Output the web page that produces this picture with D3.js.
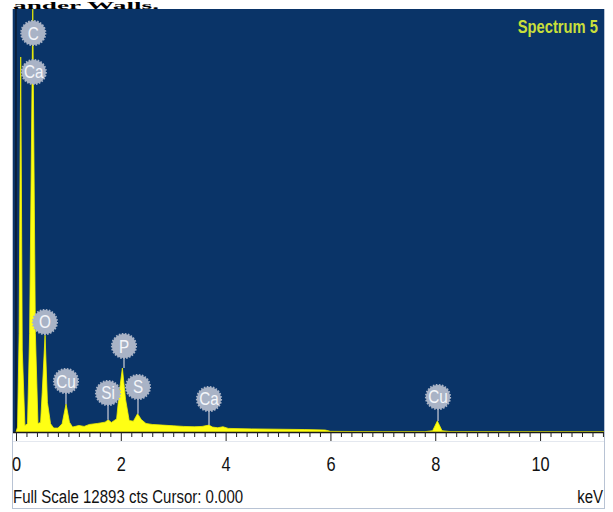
<!DOCTYPE html>
<html><head><meta charset="utf-8">
<script src="https://cdn.jsdelivr.net/npm/d3@7/dist/d3.min.js"></script>
<style>
html,body{margin:0;padding:0;background:#fff;}
svg{display:block;}
.narrow{font-family:'Liberation Sans','Arial',sans-serif;}
</style></head>
<body>
<svg id="chart" width="613" height="512"></svg>
<script>
// ---- data ----
const fullScale = 12893;
const keVMin = -0.057, keVMax = 11.22;
const energies = [0.00,0.03,0.06,0.09,0.12,0.17,0.22,0.26,0.32,0.37,0.42,0.47,0.50,0.555,0.60,0.66,0.72,0.80,0.88,0.955,1.02,1.08,1.20,1.30,1.40,1.55,1.70,1.76,1.82,1.92,1.97,2.03,2.09,2.16,2.24,2.32,2.39,2.48,2.60,2.80,3.00,3.20,3.40,3.55,3.68,3.75,3.85,3.95,4.05,4.50,5.00,5.50,5.90,6.00,6.40,7.00,7.80,7.95,8.04,8.13,8.30,11.22];
const counts   = [0,150,3000,11430,2500,200,250,3000,12893,3000,250,300,1200,2950,900,250,120,120,250,853,300,150,200,170,230,260,300,370,290,400,1200,1950,1000,350,330,560,380,260,230,210,190,170,160,170,210,150,130,160,110,95,85,75,60,20,15,10,10,40,335,40,10,5];
const peakNames  = ["C","Ca","O","Cu","Si","P","S","Ca","Cu"];
const peakKeV    = [0.33,0.34,0.553,0.954,1.756,2.061,2.328,3.683,8.053];
const labelCts   = [12161,10973,3353,1554,1189,2621,1372,1006,1067];
const stemCts    = [null,null,2950,853,370,1950,560,210,335];
const majorTicks = [0,2,4,6,8,10];
const minorStep = 0.2;
const title = "Spectrum 5";
const footer = "Full Scale 12893 cts Cursor: 0.000";
const unit = "keV";
const topText = "ander Walls.";

// ---- layout ----
const svg = d3.select("#chart");
const plot = {l:13, r:604, t:9, b:432};
const x = d3.scaleLinear().domain([keVMin, keVMax]).range([plot.l, plot.r]);
const y = d3.scaleLinear().domain([0, fullScale]).range([plot.b, plot.t]);

// top text (partly visible in reference)
svg.append("text").attr("x",13).attr("y",8.5)
  .attr("font-family","'Liberation Serif','Times New Roman',serif")
  .attr("font-weight","bold").attr("font-size",11).attr("fill","#000")
  .attr("textLength",146).attr("lengthAdjust","spacingAndGlyphs").text(topText);

// outer frame
svg.append("rect").attr("x",12.5).attr("y",9.5).attr("width",592).attr("height",499)
  .attr("fill","#fff").attr("stroke","#b8c3d4").attr("stroke-width",1);

// plot background
svg.append("rect").attr("x",plot.l).attr("y",plot.t).attr("width",plot.r-plot.l).attr("height",plot.b-plot.t)
  .attr("fill","#0a3468");

svg.append("defs").append("clipPath").attr("id","pc").append("rect")
  .attr("x",plot.l).attr("y",plot.t).attr("width",plot.r-plot.l).attr("height",plot.b-plot.t);

// y axis line at 0 keV
svg.append("line").attr("x1",x(0)).attr("x2",x(0)).attr("y1",plot.t).attr("y2",plot.b)
  .attr("stroke","#0a1a30").attr("stroke-width",1.5);

// spectrum
const pts = energies.map((e,i)=>[e,counts[i]]);
const area = d3.area().x(d=>x(d[0])).y0(y(0)).y1(d=>y(d[1]));
svg.append("path").datum(pts).attr("clip-path","url(#pc)")
  .attr("d",area).attr("fill","#ffff14").attr("stroke","#f2f200").attr("stroke-width",0.8);

// stems
peakNames.forEach((n,i)=>{
  if(stemCts[i]===null) return;
  svg.append("line").attr("x1",x(peakKeV[i])).attr("x2",x(peakKeV[i]))
    .attr("y1",y(labelCts[i])+12).attr("y2",y(stemCts[i]))
    .attr("stroke","#a7b0c2").attr("stroke-width",1.5);
});
// badges
const badge = svg.append("g");
peakNames.forEach((n,i)=>{
  const cx = x(peakKeV[i]), cy = y(labelCts[i]);
  badge.append("circle").attr("cx",cx).attr("cy",cy).attr("r",12)
    .attr("fill","#a9b3c6").attr("stroke","#a9b3c6").attr("stroke-width",2.2).attr("stroke-dasharray","1.6,1.4");
  badge.append("text").attr("class","narrow")
    .attr("transform",`translate(${cx},${cy+6.5}) scale(0.85,1)`)
    .attr("text-anchor","middle").attr("font-size",18).attr("fill","#f4f6fa").text(n);
});

// title
svg.append("text").attr("class","narrow").attr("transform","translate(598,33) scale(0.82,1)")
  .attr("text-anchor","end")
  .attr("font-size",18).attr("font-weight","bold").attr("fill","#c9df3a").text(title);

// x axis
svg.append("line").attr("x1",plot.l).attr("x2",plot.r).attr("y1",plot.b+0.5).attr("y2",plot.b+0.5)
  .attr("stroke","#1a1a1a").attr("stroke-width",1.5);
const minor = d3.range(0, keVMax+1e-9, minorStep).map(v=>+v.toFixed(1));
const axis = d3.axisBottom(x).tickValues(minor).tickSize(5).tickFormat("");
const ag = svg.append("g").attr("transform",`translate(0,${plot.b})`).call(axis);
ag.select(".domain").remove();
ag.selectAll(".tick line").attr("stroke","#222").attr("stroke-width",1)
  .attr("y2",d=> majorTicks.includes(d) ? 9 : 5);
// faint guide line
svg.append("line").attr("x1",plot.l).attr("x2",plot.r).attr("y1",plot.b+9.5).attr("y2",plot.b+9.5)
  .attr("stroke","#e4e8ef").attr("stroke-width",1);
const lg = svg.append("g").attr("transform",`translate(0,${plot.b})`)
  .call(d3.axisBottom(x).tickValues(majorTicks).tickSize(0).tickPadding(0).tickFormat(d3.format("d")));
lg.select(".domain").remove();
lg.selectAll("text").attr("class","narrow").attr("font-size",21).attr("fill","#111")
  .attr("dy",null).attr("y",null).attr("transform","translate(0,39) scale(0.78,1)");

// footer
svg.append("text").attr("class","narrow").attr("transform","translate(13,503) scale(0.79,1)")
  .attr("font-size",19).attr("fill","#111").text(footer);
svg.append("text").attr("class","narrow").attr("transform","translate(603,503) scale(0.79,1)")
  .attr("text-anchor","end").attr("font-size",19).attr("fill","#111").text(unit);
</script>
</body></html>
